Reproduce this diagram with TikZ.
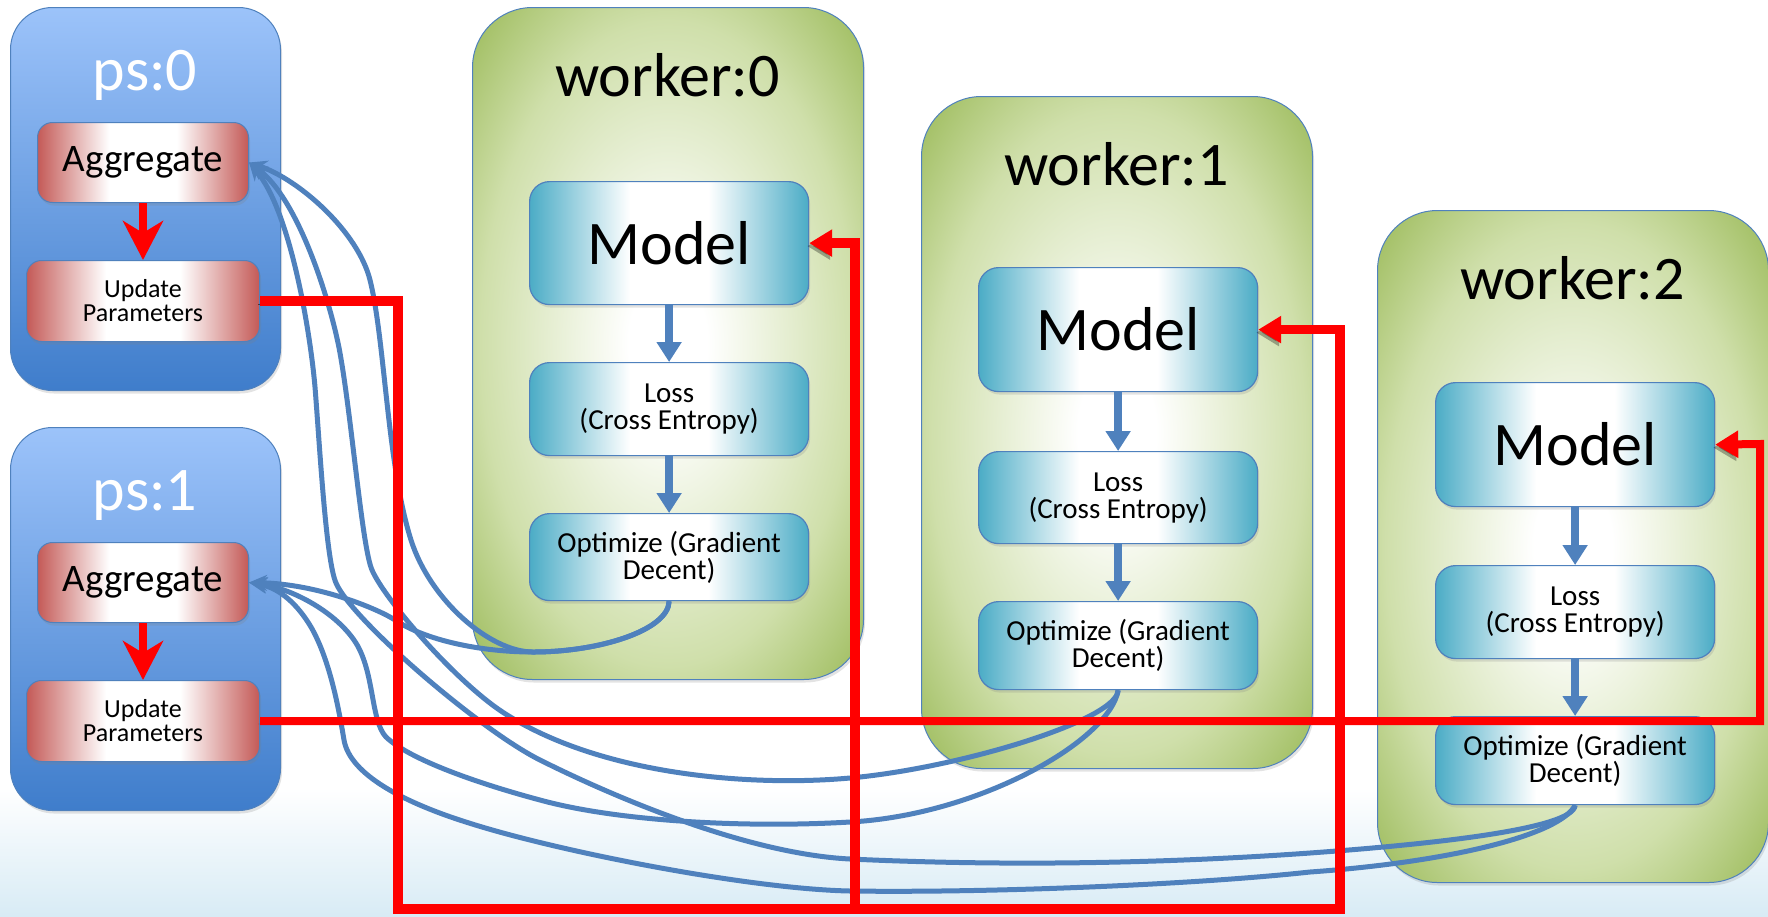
\documentclass[tikz,border=0pt]{standalone}
\usepackage{fontspec}
\setmainfont{Carlito}
\usetikzlibrary{arrows.meta,shadows,calc}
\definecolor{connblue}{HTML}{4F81BD}
\definecolor{boxline}{HTML}{4F81BD}
\definecolor{pstop}{HTML}{9CC3FA}
\definecolor{psbot}{HTML}{3F7DCB}
\definecolor{redc}{HTML}{C45A57}
\definecolor{tealc}{HTML}{4BACC6}
\definecolor{greenl}{HTML}{CFDFAA}
\definecolor{greend}{HTML}{A6C26A}
\definecolor{bgblue}{HTML}{D8EBF5}
\definecolor{arrred}{HTML}{FF0000}
\pgfdeclarehorizontalshading{redbar}{100bp}{color(0bp)=(redc); color(25bp)=(redc); color(42bp)=(white); color(58bp)=(white); color(75bp)=(redc); color(100bp)=(redc)}
\pgfdeclarehorizontalshading{tealbar}{100bp}{color(0bp)=(tealc); color(25bp)=(tealc); color(43bp)=(white); color(57bp)=(white); color(75bp)=(tealc); color(100bp)=(tealc)}
\pgfdeclareradialshading{greenglow}{\pgfpoint{0bp}{0bp}}{color(0bp)=(white); color(5bp)=(white); color(24bp)=(greenl); color(33bp)=(greend); color(50bp)=(greend)}
\pgfdeclareverticalshading{bgshade}{100bp}{color(0bp)=(bgblue); color(25bp)=(bgblue); color(32bp)=(white); color(100bp)=(white)}
\newcommand\bigfont{\fontsize{62}{70}\selectfont}
\newcommand\aggfont{\fontsize{39}{44}\selectfont}
\newcommand\updfont{\fontsize{26}{24}\selectfont}
\newcommand\stepfont{\fontsize{29}{27}\selectfont}
\tikzset{
  softshadow/.style={drop shadow={opacity=0.22, shadow xshift=1.5pt, shadow yshift=-3pt}},
  psbox/.style={draw=boxline, line width=1pt, rounded corners=42pt, top color=pstop, bottom color=psbot,
    minimum width=270pt, minimum height=383pt, anchor=north west, inner sep=0pt, softshadow},
  workerbox/.style={draw=boxline, line width=1pt, rounded corners=60pt, shade, shading=greenglow,
    minimum width=391pt, minimum height=672pt, anchor=north west, inner sep=0pt, softshadow},
  redbox/.style={draw=boxline, line width=1pt, rounded corners=15pt, shade, shading=redbar,
    anchor=north west, inner sep=0pt, align=center, softshadow},
  tealbox/.style={draw=boxline, line width=1.2pt, rounded corners=20pt, shade, shading=tealbar,
    minimum width=279pt, anchor=north west, inner sep=0pt, align=center, softshadow},
  pstitle/.style={anchor=base, inner sep=0pt, text=white, font=\bigfont},
  wtitle/.style={anchor=base, inner sep=0pt, text=black, font=\bigfont},
  psarrow/.style={draw=arrred, line width=8pt, -{Stealth[length=39pt,width=40pt,inset=12pt]}},
  flowarrow/.style={draw=connblue, line width=8pt, -{Triangle[length=20pt,width=24pt]}},
  curvearrow/.style={draw=connblue, line width=5pt, -{Stealth[length=18pt,width=16pt]}},
  redroute/.style={draw=arrred, line width=9.5pt, line join=miter, -{Triangle[length=23pt,width=26pt]},
    preaction={draw=black, opacity=0.3, transform canvas={xshift=-2pt,yshift=-3pt}}},
  redroutethin/.style={redroute, line width=8pt}
}
\begin{document}
\begin{tikzpicture}[x=1pt,y=-1pt]
\useasboundingbox (0,0) rectangle (1768,916);
\shade[shading=bgshade] (0,0) rectangle (1768,916);

% parameter servers
\node[psbox] (ps0) at (10,7) {};
\node[pstitle] (ps0t) at (145,90) {ps:0};
\node[redbox, minimum width=211pt, minimum height=80pt, font=\aggfont] (agg0) at (37,122) {Aggregate};
\node[redbox, minimum width=233pt, minimum height=81pt, font=\updfont] (upd0) at (26,260) {Update\\Parameters};

\node[psbox] (ps1) at (10,427) {};
\node[pstitle] (ps1t) at (145,510) {ps:1};
\node[redbox, minimum width=211pt, minimum height=80pt, font=\aggfont] (agg1) at (37,542) {Aggregate};
\node[redbox, minimum width=233pt, minimum height=81pt, font=\updfont] (upd1) at (26,680) {Update\\Parameters};

\draw[psarrow] (agg0.south) -- (upd0.north);
\draw[psarrow] (agg1.south) -- (upd1.north);

% workers
\node[workerbox] (w0) at (472,7) {};
\node[wtitle] (w0t) at (667.5,96) {worker:0};
\node[tealbox, minimum height=123pt, font=\bigfont] (model0) at (529,181) {Model};
\node[tealbox, minimum height=93pt, font=\stepfont] (loss0) at (529,362) {Loss\\(Cross Entropy)};
\node[tealbox, minimum height=87pt, font=\stepfont] (opt0) at (529,513) {Optimize (Gradient\\Decent)};

\node[workerbox] (w1) at (921,96) {};
\node[wtitle] (w1t) at (1116.5,185) {worker:1};
\node[tealbox, minimum height=124pt, font=\bigfont] (model1) at (978,267) {Model};
\node[tealbox, minimum height=92pt, font=\stepfont] (loss1) at (978,451) {Loss\\(Cross Entropy)};
\node[tealbox, minimum height=88pt, font=\stepfont] (opt1) at (978,601) {Optimize (Gradient\\Decent)};

\node[workerbox] (w2) at (1377,210) {};
\node[wtitle] (w2t) at (1572.5,299) {worker:2};
\node[tealbox, minimum height=124pt, font=\bigfont] (model2) at (1435,382) {Model};
\node[tealbox, minimum height=93pt, font=\stepfont] (loss2) at (1435,565) {Loss\\(Cross Entropy)};
\node[tealbox, minimum height=88pt, font=\stepfont] (opt2) at (1435,716) {Optimize (Gradient\\Decent)};

\foreach \i in {0,1,2}{
  \draw[flowarrow] (model\i.south) -- (loss\i.north);
  \draw[flowarrow] (loss\i.south) -- (opt\i.north);
}

% gradient connectors (optimizer -> aggregate)
\draw[curvearrow] (opt0.south) .. controls (668.5,630) and (600,652) .. (533,652)
  .. controls (490,652) and (430,600) .. (411,540)
  .. controls (387,464) and (385,340) .. (370,280)
  .. controls (358,232) and (300,180) .. (agg0.east);
\draw[curvearrow] (opt1.south) .. controls (1117.5,720) and (960,768) .. (850,778)
  .. controls (750,787) and (600,775) .. (504,713)
  .. controls (456,682) and (385,600) .. (372,570)
  .. controls (362,547) and (352,420) .. (340,353)
  .. controls (332,308) and (300,200) .. (agg0.east);
\draw[curvearrow] (opt2.south) .. controls (1574,830) and (1420,845) .. (1310,853)
  .. controls (1156,864) and (1000,866) .. (850,859)
  .. controls (750,854) and (620,800) .. (540,760)
  .. controls (480,730) and (352,620) .. (336,583)
  .. controls (326,560) and (320,450) .. (315,387)
  .. controls (310,330) and (290,210) .. (agg0.east);
\draw[curvearrow] (opt0.south) .. controls (668.5,630) and (600,652) .. (533,652)
  .. controls (480,652) and (425,640) .. (395,620)
  .. controls (380,610) and (320,584) .. (agg1.east);
\draw[curvearrow] (opt1.south) .. controls (1110,740) and (980,815) .. (850,822)
  .. controls (750,828) and (620,822) .. (540,800)
  .. controls (480,784) and (410,760) .. (386,737)
  .. controls (370,720) and (375,670) .. (354,640)
  .. controls (333,610) and (290,588) .. (agg1.east);
\draw[curvearrow] (opt2.south) .. controls (1560,835) and (1450,862) .. (1310,872)
  .. controls (1200,884) and (1000,893) .. (850,891)
  .. controls (750,889) and (560,852) .. (469,823)
  .. controls (405,803) and (350,775) .. (344,740)
  .. controls (339,710) and (330,660) .. (311,627)
  .. controls (298,605) and (280,588) .. (agg1.east);

% parameter updates (update -> model)
\coordinate (ra) at (398,909);
\coordinate (rb) at (855,909);
\coordinate (rc) at (1340,909);
\coordinate (rd) at (1760,444);
\draw[redroute] (upd0.east) -| (ra) -- (rb) |- (model0.east);
\draw[redroute] (upd0.east) -| (ra) -- (rc) |- (model1.east);
\draw[redroutethin] (upd1.east) -| (rd) -- (model2.east);
\end{tikzpicture}
\end{document}
